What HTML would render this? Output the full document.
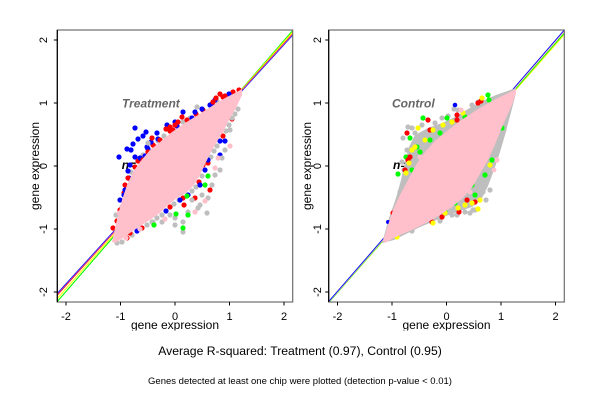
<!DOCTYPE html>
<html><head><meta charset="utf-8"><style>
html,body{margin:0;padding:0;background:#fff;}
svg{display:block;}
text{font-family:"Liberation Sans",Arial,sans-serif;}
</style></head><body>
<svg width="600" height="400" viewBox="0 0 600 400" xmlns="http://www.w3.org/2000/svg">
<defs>
<clipPath id="cL"><rect x="57.3" y="30" width="235.4" height="272"/></clipPath>
<clipPath id="cR"><rect x="328.7" y="30" width="235.6" height="272"/></clipPath>
<clipPath id="cT"><rect x="0" y="0" width="600" height="330.5"/></clipPath>
</defs>
<rect width="600" height="400" fill="#fff"/>

<!-- LEFT PANEL -->
<text x="121.7" y="169" font-size="12" font-weight="bold" font-style="italic" fill="#000">n=</text>
<g clip-path="url(#cL)" stroke-width="1.1" fill="none">
<line x1="57.3" y1="301.5" x2="292.7" y2="30.5" stroke="#00ff00"/>
<line x1="57.3" y1="298.5" x2="292.7" y2="32" stroke="#ffff00"/>
<line x1="57.3" y1="295" x2="292.7" y2="34" stroke="#ff0000"/>
<line x1="57.3" y1="293.5" x2="292.7" y2="35" stroke="#0000ff"/>
<line x1="57.3" y1="294.3" x2="292.7" y2="34.5" stroke="#cc66cc" stroke-width="0.6"/>
</g>
<g clip-path="url(#cL)">
<g>
<circle cx="113" cy="228" r="2.6" fill="#ff0000"/><circle cx="116" cy="215" r="2.6" fill="#bebebe"/><circle cx="120" cy="200" r="2.6" fill="#0000ff"/><circle cx="125" cy="185" r="2.6" fill="#ff0000"/><circle cx="131" cy="172" r="2.6" fill="#bebebe"/><circle cx="138" cy="161" r="2.6" fill="#ff0000"/><circle cx="148" cy="149" r="2.6" fill="#0000ff"/><circle cx="158" cy="141" r="2.6" fill="#bebebe"/><circle cx="170" cy="131" r="2.6" fill="#ff0000"/><circle cx="183" cy="122" r="2.6" fill="#bebebe"/><circle cx="196" cy="114" r="2.6" fill="#ff0000"/><circle cx="210" cy="105" r="2.6" fill="#0000ff"/><circle cx="223" cy="97" r="2.6" fill="#ff0000"/><circle cx="233" cy="92" r="2.6" fill="#ff0000"/>
<circle cx="117" cy="221" r="2.6" fill="#ff0000"/><circle cx="122" cy="207" r="2.6" fill="#bebebe"/><circle cx="124" cy="193" r="2.6" fill="#ff0000"/><circle cx="129" cy="178" r="2.6" fill="#0000ff"/><circle cx="135" cy="167" r="2.6" fill="#ff0000"/><circle cx="143" cy="155" r="2.6" fill="#bebebe"/><circle cx="153" cy="145" r="2.6" fill="#ff0000"/><circle cx="164" cy="136" r="2.6" fill="#bebebe"/><circle cx="177" cy="126" r="2.6" fill="#0000ff"/><circle cx="190" cy="118" r="2.6" fill="#bebebe"/><circle cx="203" cy="110" r="2.6" fill="#ff0000"/><circle cx="217" cy="101" r="2.6" fill="#bebebe"/><circle cx="229" cy="94" r="2.6" fill="#0000ff"/><circle cx="239" cy="90" r="2.6" fill="#ff0000"/>
</g>
<g>
<circle cx="238" cy="109" r="2.6" fill="#bebebe"/><circle cx="232" cy="119" r="2.6" fill="#ff0000"/><circle cx="226" cy="131" r="2.6" fill="#bebebe"/><circle cx="220" cy="141" r="2.6" fill="#0000ff"/><circle cx="214" cy="151" r="2.6" fill="#bebebe"/><circle cx="208" cy="163" r="2.6" fill="#ff0000"/><circle cx="202" cy="176" r="2.6" fill="#bebebe"/><circle cx="196" cy="187" r="2.6" fill="#bebebe"/><circle cx="188" cy="195" r="2.6" fill="#0000ff"/><circle cx="179" cy="200" r="2.6" fill="#bebebe"/><circle cx="170" cy="207" r="2.6" fill="#ff0000"/><circle cx="162" cy="215" r="2.6" fill="#bebebe"/><circle cx="152" cy="222" r="2.6" fill="#bebebe"/><circle cx="142" cy="228" r="2.6" fill="#ff0000"/><circle cx="132" cy="235" r="2.6" fill="#bebebe"/><circle cx="122" cy="242" r="2.6" fill="#bebebe"/>
<circle cx="235" cy="114" r="2.6" fill="#bebebe"/><circle cx="229" cy="125" r="2.6" fill="#bebebe"/><circle cx="223" cy="136" r="2.6" fill="#ff0000"/><circle cx="217" cy="146" r="2.6" fill="#bebebe"/><circle cx="211" cy="157" r="2.6" fill="#bebebe"/><circle cx="205" cy="170" r="2.6" fill="#0000ff"/><circle cx="199" cy="182" r="2.6" fill="#ff0000"/><circle cx="192" cy="191" r="2.6" fill="#bebebe"/><circle cx="183" cy="198" r="2.6" fill="#ff0000"/><circle cx="174" cy="204" r="2.6" fill="#bebebe"/><circle cx="166" cy="211" r="2.6" fill="#0000ff"/><circle cx="157" cy="218" r="2.6" fill="#bebebe"/><circle cx="147" cy="225" r="2.6" fill="#bebebe"/><circle cx="137" cy="231" r="2.6" fill="#0000ff"/><circle cx="127" cy="238" r="2.6" fill="#ff0000"/><circle cx="117" cy="243" r="2.6" fill="#bebebe"/>
</g>
<g fill="#0000ff">
<circle cx="135" cy="128" r="2.6"/><circle cx="138" cy="139" r="2.6"/><circle cx="143" cy="136" r="2.6"/><circle cx="119" cy="157" r="2.6"/><circle cx="131" cy="150" r="2.6"/><circle cx="135" cy="157" r="2.6"/><circle cx="140" cy="158" r="2.6"/><circle cx="130" cy="165" r="2.6"/><circle cx="125" cy="190" r="2.6"/><circle cx="183" cy="112" r="2.6"/><circle cx="202" cy="109" r="2.6"/><circle cx="215" cy="100" r="2.6"/><circle cx="225" cy="141" r="2.6"/><circle cx="157" cy="133" r="2.6"/><circle cx="192" cy="118" r="2.6"/><circle cx="147" cy="147" r="2.6"/><circle cx="167" cy="125" r="2.6"/><circle cx="127" cy="149" r="2.6"/><circle cx="133" cy="144" r="2.6"/><circle cx="146" cy="132" r="2.6"/><circle cx="128" cy="171" r="2.6"/><circle cx="131" cy="180" r="2.6"/><circle cx="124" cy="195" r="2.6"/><circle cx="212" cy="104" r="2.6"/><circle cx="195" cy="112" r="2.6"/><circle cx="208" cy="160" r="2.6"/><circle cx="220" cy="155" r="2.6"/><circle cx="200" cy="185" r="2.6"/><circle cx="180" cy="200" r="2.6"/><circle cx="145" cy="156" r="2.6"/><circle cx="158" cy="139" r="2.6"/><circle cx="151" cy="142" r="2.6"/><circle cx="175" cy="122" r="2.6"/>
</g>
<g fill="#ff0000">
<circle cx="170" cy="127" r="2.6"/><circle cx="175" cy="125" r="2.6"/><circle cx="178" cy="122" r="2.6"/><circle cx="166" cy="129" r="2.6"/><circle cx="155" cy="147" r="2.6"/><circle cx="148" cy="152" r="2.6"/><circle cx="128" cy="178" r="2.6"/><circle cx="120" cy="210" r="2.6"/><circle cx="130" cy="233" r="2.6"/><circle cx="213" cy="102" r="2.6"/><circle cx="216" cy="98" r="2.6"/><circle cx="182" cy="117" r="2.6"/><circle cx="203" cy="165" r="2.6"/><circle cx="195" cy="198" r="2.6"/><circle cx="135" cy="198" r="2.6"/><circle cx="143" cy="160" r="2.6"/><circle cx="160" cy="140" r="2.6"/><circle cx="152" cy="138" r="2.6"/><circle cx="138" cy="170" r="2.6"/><circle cx="187" cy="120" r="2.6"/><circle cx="171" cy="138" r="2.6"/><circle cx="210" cy="190" r="2.6"/><circle cx="184" cy="205" r="2.6"/><circle cx="145" cy="215" r="2.6"/><circle cx="173" cy="130" r="2.6"/><circle cx="220" cy="94" r="2.6"/><circle cx="225" cy="96" r="2.6"/>
</g>
<g fill="#bebebe">
<circle cx="197" cy="107" r="2.6"/><circle cx="232" cy="118" r="2.6"/><circle cx="222" cy="158" r="2.6"/><circle cx="208" cy="198" r="2.6"/><circle cx="198" cy="208" r="2.6"/><circle cx="188" cy="212" r="2.6"/><circle cx="175" cy="218" r="2.6"/><circle cx="183" cy="222" r="2.6"/><circle cx="153" cy="222" r="2.6"/><circle cx="207" cy="213" r="2.6"/><circle cx="202" cy="195" r="2.6"/><circle cx="148" cy="143" r="2.6"/><circle cx="183" cy="232" r="2.6"/><circle cx="215" cy="175" r="2.6"/><circle cx="225" cy="150" r="2.6"/><circle cx="230" cy="130" r="2.6"/><circle cx="200" cy="205" r="2.6"/><circle cx="170" cy="215" r="2.6"/><circle cx="140" cy="200" r="2.6"/><circle cx="162" cy="222" r="2.6"/><circle cx="192" cy="200" r="2.6"/><circle cx="212" cy="185" r="2.6"/><circle cx="175" cy="225" r="2.6"/><circle cx="220" cy="170" r="2.6"/>
</g>
<g fill="#00ff00">
<circle cx="208" cy="176" r="2.6"/><circle cx="176" cy="214" r="2.6"/><circle cx="188" cy="215" r="2.6"/><circle cx="183" cy="228" r="2.6"/><circle cx="154" cy="225" r="2.6"/><circle cx="187" cy="196" r="2.6"/><circle cx="205" cy="185" r="2.6"/>
</g>
<polygon fill="#ffc0cb" points="112,242 115,228 118,215 122,200 127,185 133,172 140,162 150,150 160,142 172,132 185,123 198,115 212,106 225,98 235,93 242,89 242,95 236,108 230,118 224,130 218,140 212,150 206,162 200,175 194,185 186,193 177,198 168,205 160,213 150,220 140,226 130,233 120,240 115,243"/>
<g fill="#ffc0cb">
<circle cx="218" cy="158" r="2.6"/><circle cx="230" cy="146" r="2.6"/><circle cx="205" cy="201" r="2.6"/><circle cx="195" cy="212" r="2.6"/><circle cx="165" cy="219" r="2.6"/><circle cx="222" cy="130" r="2.6"/><circle cx="140" cy="229" r="2.6"/><circle cx="215" cy="168" r="2.6"/><circle cx="126" cy="238" r="2.6"/><circle cx="119" cy="213" r="2.4"/>
</g>
</g>
<text x="122" y="107.5" font-size="12" font-weight="bold" font-style="italic" fill="#666">Treatment</text>
<rect x="57.3" y="30" width="235.4" height="272" fill="none" stroke="#6e6e6e" stroke-width="1.2"/>
<line x1="57.3" y1="30" x2="57.3" y2="302" stroke="#000" stroke-width="1.2"/>
<g stroke="#000" stroke-width="1">
<line x1="66" y1="302" x2="66" y2="305.5"/><line x1="120.5" y1="302" x2="120.5" y2="305.5"/><line x1="175" y1="302" x2="175" y2="305.5"/><line x1="229.5" y1="302" x2="229.5" y2="305.5"/><line x1="284" y1="302" x2="284" y2="305.5"/>
<line x1="57.3" y1="40" x2="53.8" y2="40"/><line x1="57.3" y1="103" x2="53.8" y2="103"/><line x1="57.3" y1="166" x2="53.8" y2="166"/><line x1="57.3" y1="229" x2="53.8" y2="229"/><line x1="57.3" y1="292" x2="53.8" y2="292"/>
</g>
<g font-size="11" fill="#000" text-anchor="middle">
<text x="66" y="320">-2</text><text x="120.5" y="320">-1</text><text x="175" y="320">0</text><text x="229.5" y="320">1</text><text x="284" y="320">2</text>
<text transform="translate(47,40) rotate(-90)">2</text><text transform="translate(47,103) rotate(-90)">1</text><text transform="translate(47,166) rotate(-90)">0</text><text transform="translate(47,229) rotate(-90)">-1</text><text transform="translate(47,292) rotate(-90)">-2</text>
</g>
<g clip-path="url(#cT)" font-size="12" fill="#000" text-anchor="middle">
<text x="175" y="329">gene expression</text>
<text x="446.5" y="329">gene expression</text>
</g>
<text transform="translate(39,166) rotate(-90)" font-size="12" text-anchor="middle">gene expression</text>

<!-- RIGHT PANEL -->
<text x="393" y="169" font-size="12" font-weight="bold" font-style="italic" fill="#000">n=</text>
<g clip-path="url(#cR)" stroke-width="1.1" fill="none">
<line x1="328.7" y1="302.5" x2="564.3" y2="34.5" stroke="#ffff00"/>
<line x1="328.7" y1="302.5" x2="564.3" y2="33" stroke="#00ff00"/>
<line x1="328.7" y1="302" x2="564.3" y2="31.5" stroke="#ffc0cb"/>
<line x1="328.7" y1="301.5" x2="564.3" y2="30" stroke="#0000ff" stroke-width="0.9"/>
</g>
<g clip-path="url(#cR)">
<polygon fill="#bebebe" points="382,243 389,218 396,198 401,180 405,162 409,147 415,135 428,128 442,123 455,117 468,109 482,101 496,95 516,88 515,97 510,116 505,135 500,152 494,170 488,186 481,200 472,207 460,211 446,216 432,222 418,228 404,235 394,240"/>
<g fill="#bebebe">
<circle cx="408" cy="127" r="2.6"/><circle cx="403" cy="138" r="2.6"/><circle cx="415" cy="133" r="2.6"/><circle cx="475" cy="210" r="2.6"/><circle cx="483" cy="192" r="2.6"/><circle cx="498" cy="148" r="2.6"/><circle cx="407" cy="150" r="2.6"/><circle cx="402" cy="162" r="2.6"/><circle cx="405" cy="182" r="2.6"/><circle cx="400" cy="192" r="2.6"/><circle cx="395" cy="212" r="2.6"/><circle cx="422" cy="210" r="2.6"/><circle cx="432" cy="217" r="2.6"/><circle cx="452" cy="215" r="2.6"/><circle cx="465" cy="212" r="2.6"/><circle cx="480" cy="182" r="2.6"/><circle cx="488" cy="172" r="2.6"/><circle cx="493" cy="152" r="2.6"/><circle cx="500" cy="140" r="2.6"/><circle cx="502" cy="117" r="2.6"/><circle cx="442" cy="118" r="2.6"/><circle cx="458" cy="110" r="2.6"/><circle cx="472" cy="105" r="2.6"/><circle cx="435" cy="123" r="2.6"/><circle cx="422" cy="125" r="2.6"/><circle cx="498" cy="121" r="2.6"/><circle cx="454" cy="109" r="2.6"/><circle cx="473" cy="210" r="2.6"/><circle cx="457" cy="215" r="2.6"/><circle cx="427" cy="220" r="2.6"/><circle cx="397" cy="213" r="2.6"/><circle cx="470" cy="213" r="2.6"/><circle cx="486" cy="200" r="2.6"/><circle cx="404" cy="170" r="2.6"/><circle cx="398" cy="200" r="2.6"/><circle cx="392" cy="225" r="2.6"/><circle cx="412" cy="128" r="2.6"/><circle cx="448" cy="116" r="2.6"/><circle cx="478" cy="102" r="2.6"/><circle cx="504" cy="130" r="2.6"/><circle cx="490" cy="190" r="2.6"/><circle cx="440" cy="221" r="2.6"/><circle cx="412" cy="231" r="2.6"/><circle cx="508" cy="105" r="2.6"/>
</g>
<g fill="#00ff00">
<circle cx="423" cy="118" r="2.6"/><circle cx="440" cy="133" r="2.6"/><circle cx="410" cy="138" r="2.6"/><circle cx="417" cy="147" r="2.6"/><circle cx="406" cy="157" r="2.6"/><circle cx="398" cy="174" r="2.6"/><circle cx="412" cy="170" r="2.6"/><circle cx="420" cy="152" r="2.6"/><circle cx="447" cy="118" r="2.6"/><circle cx="465" cy="117" r="2.6"/><circle cx="488" cy="95" r="2.6"/><circle cx="502" cy="128" r="2.6"/><circle cx="492" cy="160" r="2.6"/><circle cx="485" cy="175" r="2.6"/><circle cx="472" cy="185" r="2.6"/><circle cx="462" cy="195" r="2.6"/><circle cx="475" cy="195" r="2.6"/><circle cx="455" cy="203" r="2.6"/><circle cx="445" cy="212" r="2.6"/><circle cx="435" cy="210" r="2.6"/><circle cx="467" cy="190" r="2.6"/><circle cx="477" cy="118" r="2.6"/><circle cx="489" cy="100" r="2.6"/><circle cx="430" cy="140" r="2.6"/>
</g>
<g fill="#ff0000">
<circle cx="428" cy="120" r="2.6"/><circle cx="430" cy="130" r="2.6"/><circle cx="410" cy="157" r="2.6"/><circle cx="408" cy="160" r="2.6"/><circle cx="405" cy="170" r="2.6"/><circle cx="478" cy="103" r="2.6"/><circle cx="457" cy="115" r="2.6"/><circle cx="450" cy="203" r="2.6"/><circle cx="467" cy="200" r="2.6"/><circle cx="475" cy="202" r="2.6"/><circle cx="442" cy="217" r="2.6"/><circle cx="422" cy="222" r="2.6"/><circle cx="432" cy="222" r="2.6"/><circle cx="457" cy="120" r="2.6"/><circle cx="481" cy="101" r="2.6"/><circle cx="407" cy="133" r="2.6"/><circle cx="459" cy="212" r="2.6"/><circle cx="393" cy="213" r="2.6"/>
</g>
<g fill="#ffff00">
<circle cx="418" cy="128" r="2.6"/><circle cx="425" cy="140" r="2.6"/><circle cx="415" cy="147" r="2.6"/><circle cx="409" cy="163" r="2.6"/><circle cx="406" cy="173" r="2.6"/><circle cx="433" cy="130" r="2.6"/><circle cx="443" cy="125" r="2.6"/><circle cx="452" cy="122" r="2.6"/><circle cx="482" cy="98" r="2.6"/><circle cx="463" cy="113" r="2.6"/><circle cx="472" cy="203" r="2.6"/><circle cx="458" cy="208" r="2.6"/><circle cx="433" cy="223" r="2.6"/><circle cx="445" cy="213" r="2.6"/><circle cx="480" cy="200" r="2.6"/><circle cx="490" cy="165" r="2.6"/><circle cx="412" cy="150" r="2.6"/><circle cx="465" cy="205" r="2.6"/><circle cx="393" cy="235" r="2.6"/><circle cx="478" cy="209" r="2.6"/><circle cx="397" cy="237" r="2.6"/>
</g>
<g fill="#0000ff">
<circle cx="455" cy="105" r="2.3"/><circle cx="388" cy="222" r="2"/>
</g>
<polygon fill="#ffc0cb" points="383,241 388,225 393,210 400,195 408,180 416,165 425,152 435,141 447,131 460,121 475,111 490,102 502,96 512,91 516,89 516,93 512,105 506,118 500,132 494,147 488,160 481,172 473,186 463,198 452,207 440,215 428,222 414,229 400,235 390,240 385,243"/>
<g fill="#ffc0cb">
<circle cx="497" cy="160" r="2.6"/><circle cx="461" cy="110" r="2.6"/><circle cx="494" cy="170" r="2.4"/><circle cx="420" cy="157" r="2.4"/><circle cx="470" cy="192" r="2.4"/>
</g>
</g>
<text x="392" y="107.5" font-size="12" font-weight="bold" font-style="italic" fill="#666">Control</text>
<rect x="328.7" y="30" width="235.6" height="272" fill="none" stroke="#6e6e6e" stroke-width="1.2"/>
<line x1="328.7" y1="30" x2="328.7" y2="302" stroke="#000" stroke-width="1.2"/>
<g stroke="#000" stroke-width="1">
<line x1="337.5" y1="302" x2="337.5" y2="305.5"/><line x1="392" y1="302" x2="392" y2="305.5"/><line x1="446.5" y1="302" x2="446.5" y2="305.5"/><line x1="501" y1="302" x2="501" y2="305.5"/><line x1="555.5" y1="302" x2="555.5" y2="305.5"/>
<line x1="328.7" y1="40" x2="325.2" y2="40"/><line x1="328.7" y1="103" x2="325.2" y2="103"/><line x1="328.7" y1="166" x2="325.2" y2="166"/><line x1="328.7" y1="229" x2="325.2" y2="229"/><line x1="328.7" y1="292" x2="325.2" y2="292"/>
</g>
<g font-size="11" fill="#000" text-anchor="middle">
<text x="337.5" y="320">-2</text><text x="392" y="320">-1</text><text x="446.5" y="320">0</text><text x="501" y="320">1</text><text x="555.5" y="320">2</text>
<text transform="translate(321,40) rotate(-90)">2</text><text transform="translate(321,103) rotate(-90)">1</text><text transform="translate(321,166) rotate(-90)">0</text><text transform="translate(321,229) rotate(-90)">-1</text><text transform="translate(321,292) rotate(-90)">-2</text>
</g>
<text transform="translate(311,166) rotate(-90)" font-size="12" text-anchor="middle">gene expression</text>

<text x="300" y="355" font-size="12.2" text-anchor="middle" fill="#000">Average R-squared: Treatment (0.97), Control (0.95)</text>
<text x="300" y="384" font-size="9.5" text-anchor="middle" fill="#000">Genes detected at least one chip were plotted (detection p-value &lt; 0.01)</text>
</svg>
</body></html>
